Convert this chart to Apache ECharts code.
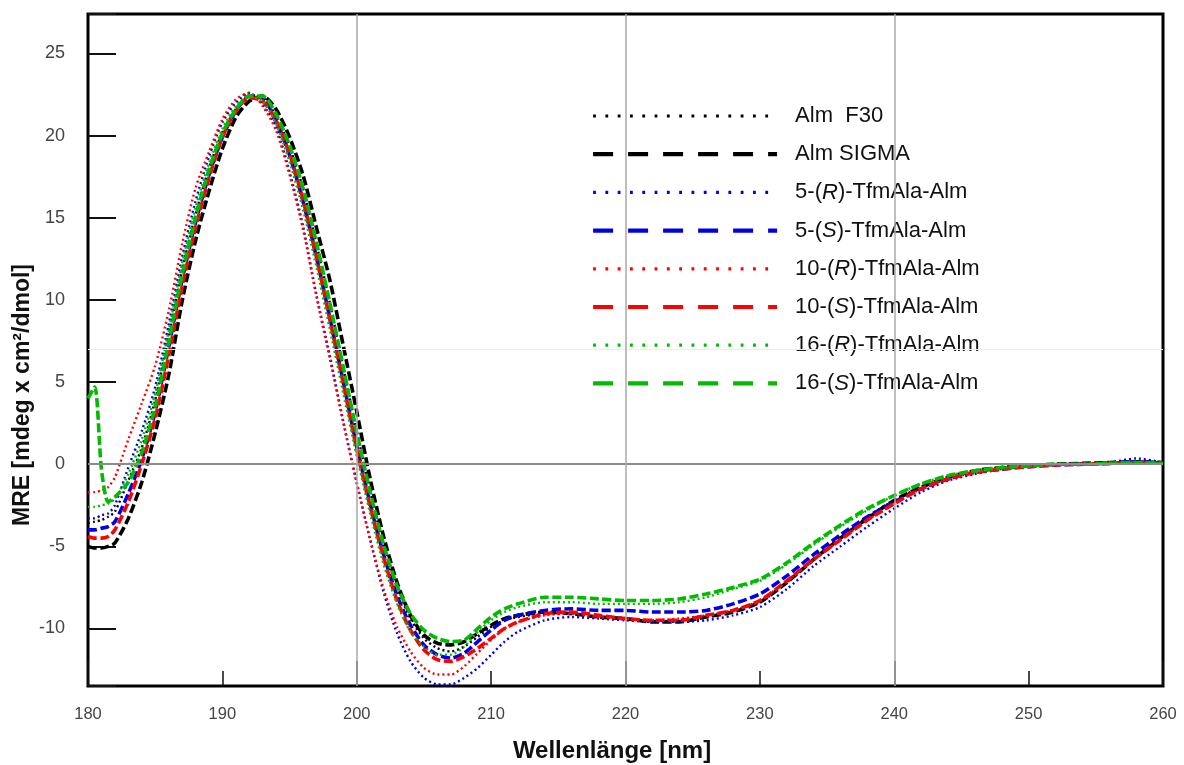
<!DOCTYPE html>
<html><head><meta charset="utf-8">
<script src="https://cdn.jsdelivr.net/npm/echarts@6.0.0/dist/echarts.min.js"></script>
<style>html,body{margin:0;padding:0;background:#fff}#c{width:1184px;height:765px}</style>
</head><body><div id="c"></div>
<script>
// Wavelength (nm)
const wavelengths = [180,180.5,181,181.5,182,183,184,185,186,187,188,189,190,191,192,193,194,195,196,197,198,199,200,201,202,203,204,205,206,207,208,209,210,211,212,214,216,218,220,222,224,226,228,230,232,234,236,238,240,242,244,246,248,250,252,254,256,258,260];

// MRE values per series
const almF30 = [-3.6,-3.5,-3.4,-3.2,-2.9, -1.0,1.0,3.9,7.7,11.8,15.2,18.0,20.2,21.6,22.4, 22.3,21.2,19.3,16.8,13.4,9.8,5.9,2.0,-1.6,-4.9, -7.5,-9.4,-10.6,-11.2,-11.4,-11.1,-10.5,-9.9,-9.5,-9.3, -9.1,-9.1,-9.3,-9.4,-9.6,-9.6,-9.3,-8.9,-8.4,-7.2, -5.8,-4.5,-3.2,-2.2,-1.4,-0.8,-0.4,-0.2,-0.1,0.0, 0.05,0.1,0.15,0.1];
const almSigma = [-5.0,-5.1,-5.1,-5.0,-4.8, -3.3,-1.1,1.9,5.4,9.9,13.6,16.6,19.2,21.1,22.1, 22.4,21.6,19.9,17.6,14.4,11.2,7.2,3.2,-0.9,-4.4, -7.2,-9.2,-10.4,-10.9,-11.0,-10.8,-10.3,-9.8,-9.4,-9.2, -9.0,-9.1,-9.3,-9.4,-9.6,-9.6,-9.3,-9.0,-8.4,-7.2, -5.8,-4.5,-3.3,-2.2,-1.4,-0.8,-0.4,-0.2,-0.1,0.0, 0.05,0.1,0.15,0.1];
const tfm5R = [-3.3,-3.3,-3.1,-3.0,-2.5, -0.2,2.0,4.7,8.5,12.6,16.0,18.7,20.8,22.0,22.6, 21.9,20.5,17.8,14.5,10.3,6.6,2.6,-1.1,-4.6,-7.8, -10.3,-12.0,-13.0,-13.4,-13.4,-13.0,-12.4,-11.6,-10.8,-10.2, -9.5,-9.3,-9.4,-9.5,-9.6,-9.6,-9.5,-9.2,-8.7,-7.6, -6.2,-5.0,-3.8,-2.7,-1.7,-1.0,-0.6,-0.3,-0.15,-0.05, 0.05,0.1,0.35,0.1];
const tfm5S = [-4.0,-4.0,-3.9,-3.8,-3.5, -1.8,0.3,3.2,7.1,11.2,14.7,17.6,19.9,21.5,22.4, 22.3,20.9,18.8,16.0,12.6,8.9,5.0,1.1,-2.4,-5.5, -8.0,-9.8,-11.0,-11.6,-11.8,-11.5,-10.8,-10.1,-9.5,-9.2, -8.9,-8.8,-8.9,-8.9,-9.0,-9.0,-8.9,-8.5,-7.9,-6.8, -5.5,-4.3,-3.2,-2.3,-1.5,-0.9,-0.5,-0.3,-0.15,-0.05, 0.0,0.05,0.15,0.05];
const tfm10R = [-1.7,-1.7,-1.6,-1.4,-0.8, 1.5,3.7,6.0,9.3,13.4,16.8,19.0,21.0,22.2,22.6, 21.8,20.3,17.6,14.3,10.2,6.4,2.5,-1.2,-4.6,-7.6, -9.9,-11.4,-12.4,-12.8,-12.8,-12.3,-11.5,-10.7,-10.0,-9.6, -9.2,-9.1,-9.3,-9.4,-9.5,-9.4,-9.2,-8.9,-8.3,-7.1, -5.8,-4.6,-3.4,-2.4,-1.5,-0.9,-0.5,-0.3,-0.15,-0.05, 0.0,0.05,0.1,0.05];
const tfm10S = [-4.4,-4.5,-4.5,-4.4,-4.0, -2.3,0.0,2.8,6.6,10.8,14.4,17.4,19.9,21.5,22.3, 22.1,20.9,18.9,16.1,12.6,8.8,4.9,0.9,-2.6,-5.7, -8.3,-10.1,-11.3,-11.9,-12.0,-11.7,-11.2,-10.6,-10.0,-9.6, -9.1,-9.0,-9.2,-9.4,-9.5,-9.5,-9.2,-8.9,-8.3,-7.1, -5.8,-4.6,-3.4,-2.4,-1.5,-0.9,-0.5,-0.3,-0.15,-0.05, 0.0,0.05,0.1,0.05];
const tfm16R = [-2.6,-2.6,-2.5,-2.4,-2.1, -0.6,1.5,4.3,8.1,12.2,15.6,18.3,20.4,21.8,22.4, 22.1,20.7,18.4,15.5,12.0,8.2,4.3,0.5,-3.0,-6.1, -8.5,-10.2,-11.1,-11.6,-11.6,-11.1,-10.2,-9.5,-9.0,-8.7, -8.4,-8.4,-8.5,-8.5,-8.5,-8.4,-8.1,-7.6,-7.1,-6.1, -4.9,-3.8,-2.8,-1.9,-1.2,-0.7,-0.4,-0.2,-0.1,0.0, 0.0,0.05,0.1,0.05];
const tfm16S = [4.0,4.7,-0.3,-2.3,-2.0, -1.1,0.7,3.5,7.4,11.5,15.0,17.9,20.1,21.6,22.4, 22.4,21.3,19.4,16.8,13.5,9.8,5.9,1.9,-1.7,-4.9, -7.4,-9.1,-10.1,-10.6,-10.8,-10.7,-10.0,-9.3,-8.8,-8.5, -8.1,-8.1,-8.2,-8.3,-8.3,-8.2,-7.9,-7.5,-7.0,-6.0, -4.8,-3.7,-2.7,-1.9,-1.2,-0.7,-0.4,-0.2,-0.1,0.0, 0.0,0.05,0.1,0.05];

const seriesNames = ['Alm  F30','Alm SIGMA','5-(R)-TfmAla-Alm','5-(S)-TfmAla-Alm','10-(R)-TfmAla-Alm','10-(S)-TfmAla-Alm','16-(R)-TfmAla-Alm','16-(S)-TfmAla-Alm'];
const seriesValues = [almF30, almSigma, tfm5R, tfm5S, tfm10R, tfm10S, tfm16R, tfm16S];
const seriesColors = ['#000000','#000000','#0000e6','#0000e6','#ff0000','#ff0000','#00bb00','#00bb00'];
const seriesKinds = ['dotted','dashed','dotted','dashed','dotted','dashed','dotted','dashed'];
const gridWavelengths = [200, 220, 240];

const xTitle = 'Wellenlänge [nm]';
const yTitle = 'MRE [mdeg x cm²/dmol]';

const FONT = '"Liberation Sans", Arial, Helvetica, sans-serif';

const chart = echarts.init(document.getElementById('c'), null, {renderer: 'canvas'});

const plotLine = k => k === 'dotted'
  ? {type: [2, 3], width: 2.4, cap: 'butt'}
  : {type: [9, 3.5], width: 3.6, cap: 'butt'};
const legendLine = k => k === 'dotted'
  ? {type: [2.8, 9.5], width: 3.2, cap: 'butt'}
  : {type: [20, 15], width: 4.2, cap: 'butt'};

const series = seriesNames.map((name, i) => {
  const ls = plotLine(seriesKinds[i]);
  const s = {
    name: name,
    type: 'line',
    xAxisIndex: 0,
    yAxisIndex: 0,
    data: wavelengths.map((w, j) => [w, seriesValues[i][j]]),
    showSymbol: false,
    symbol: 'none',
    smooth: 0.25,
    animation: false,
    lineStyle: {color: seriesColors[i], width: ls.width, type: ls.type, cap: ls.cap},
    itemStyle: {color: seriesColors[i]},
    z: 3
  };
  if (i === 0) {
    s.markLine = {
      silent: true, symbol: ['none', 'none'], label: {show: false}, animation: false,
      data: [
        {yAxis: 0, lineStyle: {color: '#8c8c8c', width: 2, type: 'solid'}},
        {yAxis: 7, lineStyle: {color: '#ececec', width: 1, type: 'solid'}}
      ].concat(gridWavelengths.map(w => ({xAxis: w, lineStyle: {color: '#a8a8a8', width: 1.5, type: 'solid'}})))
    };
  }
  return s;
});

const option = {
  backgroundColor: '#ffffff',
  animation: false,
  grid: {left: 88, right: 21, top: 14, bottom: 79, show: true, borderColor: '#000', borderWidth: 3, backgroundColor: 'transparent', containLabel: false},
  xAxis: [
    {type: 'value', min: 180, max: 260, interval: 10, position: 'bottom',
     axisLine: {show: false, onZero: false},
     axisTick: {show: true, inside: true, length: 15, lineStyle: {color: '#111', width: 1.5}},
     axisLabel: {color: '#444', fontSize: 16.5, fontFamily: FONT, margin: 20},
     splitLine: {show: false}},
    {type: 'value', min: 180, max: 260, interval: 20, position: 'bottom',
     axisLine: {show: false, onZero: false},
     axisTick: {show: true, inside: true, length: 25, lineStyle: {color: '#111', width: 1.5}},
     axisLabel: {show: false},
     splitLine: {show: false}}
  ],
  yAxis: {type: 'value', min: -13.5, max: 27.4, splitNumber: 8,
    axisLine: {show: false, onZero: false},
    axisTick: {show: true, inside: true, length: 28, lineStyle: {color: '#111', width: 2}},
    axisLabel: {color: '#444', fontSize: 18, fontFamily: FONT, margin: 23,
      formatter: v => (Math.abs(v / 5 - Math.round(v / 5)) < 1e-6 ? String(v) : '')},
    splitLine: {show: false}},
  legend: {
    show: true, orient: 'vertical', left: 586, top: 100,
    itemWidth: 184, itemHeight: 14, itemGap: 16.2,
    selectedMode: false,
    data: seriesNames.map((n, i) => ({name: n, lineStyle: Object.assign({color: seriesColors[i]}, legendLine(seriesKinds[i])), itemStyle: {opacity: 0}})),
    formatter: n => n.replace('(R)', '({i|R})').replace('(S)', '({i|S})'),
    textStyle: {color: '#111', fontSize: 22, fontFamily: FONT, lineHeight: 22, padding: [0, 0, 0, 13],
      rich: {i: {fontStyle: 'italic', fontSize: 22, fontFamily: FONT, color: '#111', lineHeight: 22}}}
  },
  graphic: [
    {type: 'text', x: 23, y: 395, rotation: Math.PI / 2,
     style: {text: yTitle, font: 'bold 23px ' + FONT, fill: '#111', align: 'center', verticalAlign: 'middle'}},
    {type: 'text', x: 612, y: 751,
     style: {text: xTitle, font: 'bold 24px ' + FONT, fill: '#111', align: 'center', verticalAlign: 'middle'}}
  ],
  series: series
};
chart.setOption(option);
</script></body></html>
